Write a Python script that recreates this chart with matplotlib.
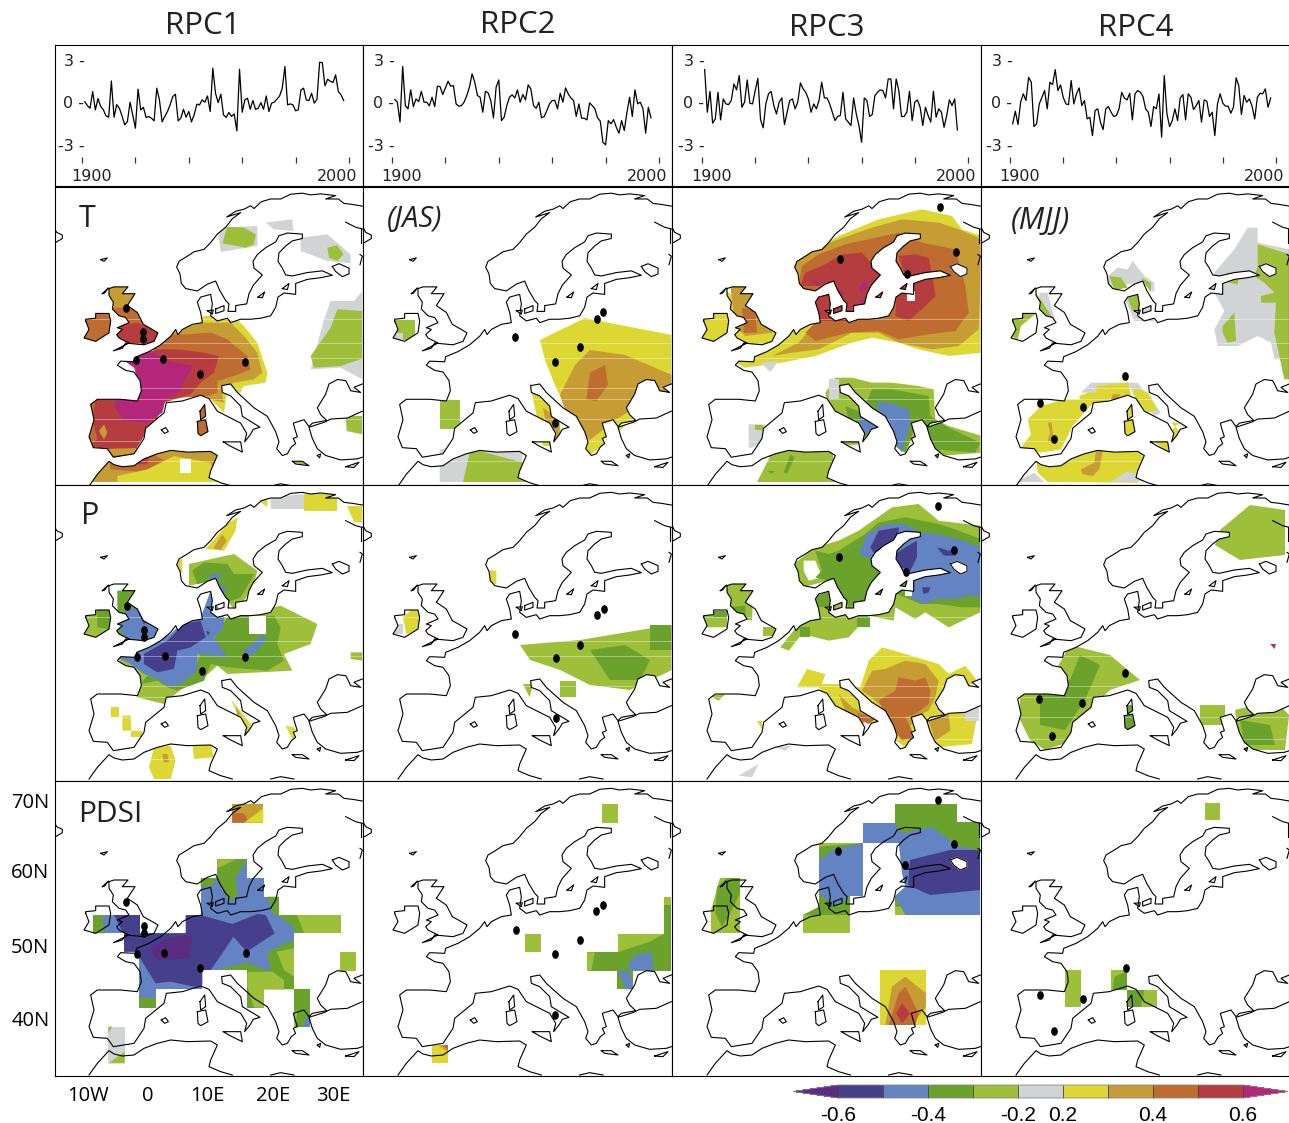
import numpy as np
import matplotlib
matplotlib.use('Agg')
import matplotlib.pyplot as plt
from matplotlib.colors import ListedColormap, BoundaryNorm
from matplotlib.cm import ScalarMappable
from matplotlib.path import Path
from matplotlib.patches import PathPatch
from matplotlib.transforms import Affine2D

W, H = 1289, 1123

# --- colours of the correlation classes
PUR, DARK, BLUE, GRN, LGR = '#5b2d82', '#463f8c', '#6483c2', '#6aa22c', '#9dbf39'
GRY, YEL, GLD, ORG, RED, MAG = '#d2d3d5', '#dcd733', '#c69c34', '#bf6c30', '#b63d3f', '#b3267a'
WHT = 'white'

bar_levels = [-0.6, -0.5, -0.4, -0.3, -0.2, 0.2, 0.3, 0.4, 0.5, 0.6]
bar_colors = [DARK, BLUE, GRN, LGR, GRY, YEL, GLD, ORG, RED]
bar_ticks = [-0.6, -0.4, -0.2, 0.2, 0.4, 0.6]

# --- time series of the four RPCs, one value a year from 1901
rpc1 = [0.16, -0.12, -0.31, 0.87, -0.42, 0.38, -0.19, -0.42, -0.85, -0.94, 1.62, -0.94, -0.05, -0.31, -0.85, -1.48,
        -1.25, 0.12, -0.78, -1.72, 1.04, -0.42, -0.24, -0.96, -0.89, -1.01, -1.2, 1.11, 0.28, -1.27, -0.89, -0.54,
        -0.07, 0.52, 0.68, -1.2, -1.01, -0.38, -0.94, -0.54, -1.27, -0.78, -0.02, -0.07, 0.28, 0.12, 0.56, -0.54,
        2.52, 0.75, 0.09, 0.68, -0.78, -0.96, -0.61, -0.89, -0.71, -1.91, 2.45, -0.59, 0.28, 0.4, -0.38, 0.24,
        -0.38, -0.31, 0.09, -0.38, 0.56, -0.54, 0.05, 0.12, 0.33, 0.56, 1.11, 2.64, -0.07, 0.0, -0.07, -0.49,
        -0.42, 0.99, 1.11, 0.28, 0.24, 0.75, 0.05, 0.33, 2.94, 2.92, 1.27, 1.74, 1.6, 1.51, 2.05, 0.87, 0.64, 0.24]
rpc2 = [0.31, 0.12, -1.29, 2.64, -0.12, -0.35, 0.99, -0.19, 0.35, 0.16, 0.89, 0.12, 0.12, -0.14, 0.47, -0.19,
        1.25, 1.22, 0.66, 1.13, 1.6, 1.25, 1.29, 0.0, -0.16, -0.12, 0.12, 0.59, 1.18, 2.12, 1.53, 0.59, 0.47, -0.59,
        0.89, 0.78, 0.24, -0.99, 1.18, 1.69, -1.18, -0.94, -0.12, 0.47, 0.64, 0.42, 0.99, 0.12, 0.66, 0.28, 1.34,
        1.06, -0.12, -0.31, 0.12, -0.99, -0.89, -0.47, 0.0, 0.24, 0.24, -0.35, 0.75, 0.12, 1.13, 0.71, 0.42, 0.24,
        -0.89, 0.0, -1.01, -1.01, -1.13, 0.07, -0.12, -0.35, -0.99, -1.22, -2.71, -2.89, -1.18, -1.41, -1.11, -1.65,
        -2.07, -1.18, -1.88, -0.59, 0.47, -0.89, 0.99, 0.0, 0.12, -0.35, -2.07, -0.24, -0.99]
rpc3 = [2.42, -0.59, 0.89, -1.36, -1.06, 0.82, -1.13, 0.35, 0.0, -0.05, 0.24, 1.41, 0.99, 2.0, -0.24, 0.12, 1.69,
        0.05, 0.0, 0.94, 1.81, -1.11, -1.69, 0.0, 0.71, 0.89, -0.12, -0.71, 0.12, 0.42, -1.46, -0.59, 0.24, 0.35,
        -0.35, 0.12, 1.48, 1.06, 0.82, 0.35, -0.59, 0.0, -0.35, 0.24, 1.53, 0.42, 0.42, 0.0, -0.59, -1.18, -0.89,
        -0.82, 0.82, -1.06, -1.29, -1.53, 0.42, -0.71, -1.53, -2.71, 0.42, 0.24, -0.89, -0.75, 0.59, 0.82, 0.99,
        0.94, 0.42, 1.76, 1.76, -0.35, 1.76, 0.94, -0.89, -0.89, -0.59, 0.89, -1.18, 0.12, 0.28, -0.24, -1.53,
        -0.24, -0.82, -1.29, 0.89, -0.94, -0.35, -0.59, -1.65, -0.82, 0.28, -0.12, 0.35, -1.84]
rpc4 = [-1.41, -0.52, -1.46, 0.12, 0.71, 0.24, 1.88, 1.53, -1.6, -1.41, 0.0, 0.47, 0.94, -0.35, 1.53, 1.36, 2.42,
        0.94, 1.34, 0.47, 0.0, -0.05, 1.65, 0.0, 0.71, 1.13, -0.12, 0.24, -1.06, -0.94, -2.24, -0.47, -0.35, -1.29,
        -1.81, -0.35, -0.19, -0.59, -0.89, -0.82, -0.35, 0.82, 0.42, 0.28, 0.75, -1.13, 0.71, 0.94, 0.82, 0.52,
        -0.35, -0.59, -1.6, -0.19, -0.35, 0.71, -2.35, 2.0, -0.71, -1.6, -1.18, -0.35, -1.18, 0.42, 0.66, -1.13,
        0.71, 0.47, -0.4, -0.12, 0.24, -1.29, 0.28, 0.19, -0.89, -0.59, -2.24, 0.0, 0.71, 0.05, -0.16, -0.16, -0.66,
        -0.24, 1.84, 1.29, -0.75, 0.59, 0.12, 0.35, -0.16, -1.06, 0.47, 0.75, 0.71, 1.06, -0.24, 0.42]

# --- coastline, in map units (3 units = 1 pixel of a panel)
mainland = [(925, 63), (895, 58), (870, 55), (853, 42), (815, 42), (845, 32), (800, 27), (770, 30), (745, 25), (710, 28),
            (680, 42), (650, 42), (622, 50), (600, 70), (590, 62), (570, 72), (545, 78), (518, 95), (560, 82), (535, 100),
            (515, 125), (490, 145), (470, 170), (450, 190), (420, 197), (400, 210), (375, 225), (368, 242), (378, 262),
            (382, 290), (395, 305), (430, 312), (460, 292), (485, 283), (497, 310), (515, 340), (525, 350), (522, 372),
            (545, 372), (545, 355), (578, 350), (585, 320), (598, 295), (625, 265), (600, 245), (597, 225), (610, 205),
            (635, 185), (665, 168), (675, 150), (700, 142), (745, 145), (745, 158), (715, 165), (695, 180), (675, 200),
            (672, 225), (685, 245), (695, 265), (715, 268), (760, 258), (805, 253), (835, 266), (800, 273), (760, 278),
            (725, 290), (725, 322), (690, 318), (672, 330), (665, 360), (650, 385), (620, 392), (590, 395), (560, 395),
            (530, 405), (520, 392), (490, 400), (470, 385), (475, 350), (470, 322), (440, 330), (430, 345), (440, 375),
            (445, 405), (415, 410), (385, 425), (372, 440), (365, 425), (350, 445), (320, 470), (285, 490), (248, 505),
            (245, 520), (200, 518), (190, 530), (215, 545), (240, 550), (258, 575), (262, 605), (250, 635), (200, 630),
            (130, 630), (110, 645), (120, 690), (105, 740), (118, 772), (160, 775), (178, 800), (240, 790), (270, 745),
            (275, 715), (330, 670), (337, 640), (385, 635), (440, 618), (465, 628), (490, 665), (520, 680), (560, 700),
            (578, 730), (572, 755), (588, 735), (598, 718), (618, 712), (590, 695), (565, 680), (560, 650), (530, 620),
            (505, 610), (503, 590), (530, 585), (550, 610), (600, 655), (640, 680), (665, 725), (675, 755), (668, 775),
            (685, 795), (700, 790), (712, 770), (725, 760), (718, 745), (730, 740), (722, 715), (718, 700), (750, 690),
            (765, 710), (775, 700), (818, 692), (800, 675), (790, 655), (815, 615), (825, 585), (850, 572), (875, 575),
            (883, 590), (890, 605), (920, 610), (900, 595), (925, 585)]
anatolia = [(925, 665), (880, 685), (830, 688), (812, 697), (765, 712), (775, 745), (790, 775), (815, 795), (860, 808),
            (910, 805), (925, 800)]
africa = [(105, 885), (130, 850), (165, 812), (180, 822), (205, 828), (240, 825), (270, 805), (310, 790), (350, 780),
          (400, 785), (470, 783), (490, 795), (470, 840), (465, 860), (500, 875), (535, 885)]
libya = [(650, 885), (680, 878), (720, 885)]
ireland = [(95, 400), (105, 425), (90, 450), (125, 460), (165, 435), (170, 400), (165, 378), (125, 378), (125, 392), (95, 395)]
britain = [(165, 305), (180, 300), (222, 300), (205, 320), (243, 320), (220, 355), (250, 375), (268, 410), (295, 425),
           (312, 435), (300, 460), (270, 470), (215, 465), (205, 480), (178, 488), (225, 465), (195, 450), (188, 440),
           (205, 425), (190, 420), (225, 405), (215, 390), (195, 385), (175, 365), (178, 345), (165, 325)]
islands = [[(145, 320), (163, 303), (152, 318)], [(140, 220), (160, 215), (150, 225)],
           [(438, 665), (452, 645), (455, 680), (440, 690)], [(430, 695), (455, 690), (462, 725), (440, 737), (432, 730)],
           [(508, 755), (560, 755), (565, 785), (530, 768)], [(322, 720), (335, 713), (343, 725), (332, 730)],
           [(715, 812), (745, 812), (765, 825), (725, 820)], [(875, 828), (915, 815), (900, 830)],
           [(790, 795), (800, 790), (797, 802)], [(612, 330), (632, 315), (625, 332)], [(685, 305), (705, 290), (700, 308)],
           [(485, 365), (510, 355), (510, 370), (485, 378)], [(460, 370), (478, 368), (475, 380)]]
lake_ladoga = [(835, 240), (855, 232), (885, 245), (885, 262), (865, 270), (845, 255)]
coast_bits = [[(0, 125), (8, 140), (25, 148), (25, 158), (8, 168), (0, 172)], [(875, 110), (905, 125), (925, 130)],
              [(920, 130), (920, 170)], [(918, 205), (925, 210), (918, 235)]]

# --- field polygons per panel, painted outer class first, in map units
t_rpc1 = [
    (YEL, [(430, 410), (450, 390), (530, 385), (570, 420), (610, 470), (640, 560), (635, 590), (570, 600), (555, 625), (520, 610), (510, 680), (470, 640), (300, 500)]),
    (GLD, [(300, 480), (380, 425), (450, 410), (530, 410), (570, 450), (610, 500), (625, 560), (600, 580), (540, 590), (500, 600), (510, 650), (470, 640), (440, 620), (300, 600)]),
    (ORG, [(300, 490), (350, 445), (400, 445), (470, 440), (520, 460), (580, 510), (590, 550), (540, 570), (490, 585), (490, 620), (460, 630), (300, 640)]),
    (RED, [(240, 510), (310, 490), (370, 490), (450, 500), (495, 510), (480, 560), (440, 590), (410, 625), (330, 650), (300, 720), (270, 750), (240, 800), (180, 815), (160, 790), (100, 780), (95, 640), (180, 625), (250, 630)]),
    (ORG, [(100, 640), (125, 640), (115, 700), (130, 760), (100, 780)]),
    (MAG, [(190, 510), (300, 500), (345, 525), (418, 540), (395, 580), (370, 625), (335, 640), (325, 680), (280, 710), (210, 705), (180, 660), (190, 640), (255, 640), (262, 590), (240, 545)]),
    (GLD, [(135, 735), (150, 715), (160, 740), (150, 760)]),
    (ORG, [(80, 370), (180, 370), (180, 470), (80, 470)]),
    (GLD, [(140, 290), (250, 290), (250, 375), (140, 375)]),
    (ORG, [(170, 365), (250, 365), (320, 430), (320, 490), (170, 495)]),
    (RED, [(180, 420), (250, 410), (315, 440), (305, 480), (170, 497), (185, 450)]),
    (ORG, [(425, 650), (465, 650), (465, 750), (425, 750)]),
    (GLD, [(105, 790), (490, 780), (500, 888), (105, 888)]),
    (ORG, [(165, 810), (290, 800), (340, 830), (280, 860), (170, 850)]),
    (RED, [(250, 812), (285, 810), (280, 835), (250, 835)]),
    (YEL, [(190, 870), (280, 850), (360, 810), (470, 830), (490, 888), (190, 888)]),
    (WHT, [(378, 818), (412, 818), (412, 860), (378, 860)]),
    (GRY, [(490, 125), (610, 120), (610, 180), (500, 198)]),
    (LGR, [(520, 122), (570, 125), (605, 145), (600, 175), (575, 185), (505, 172)]),
    (GRY, [(635, 110), (715, 100), (718, 135), (660, 130)]),
    (GRY, [(740, 155), (820, 145), (890, 205), (890, 232), (820, 225), (740, 195)]),
    (LGR, [(820, 185), (850, 178), (868, 205), (850, 225), (825, 215)]),
    (GRY, [(830, 345), (900, 345), (925, 315), (925, 580), (860, 545), (770, 550), (810, 400)]),
    (LGR, [(770, 510), (830, 425), (850, 370), (925, 375), (925, 518), (860, 540), (780, 545)]),
    (LGR, [(875, 690), (925, 690), (925, 745), (878, 735)]),
    (LGR, [(725, 770), (755, 800), (740, 805)]),
    (LGR, [(712, 815), (765, 820), (760, 838), (715, 830)]),
    (LGR, [(875, 825), (915, 815), (900, 840)]),
]
t_rpc2 = [
    (YEL, [(531, 462), (666, 396), (771, 417), (927, 447), (927, 657), (831, 678), (741, 762), (681, 807), (636, 732), (576, 597), (546, 522)]),
    (GLD, [(681, 492), (786, 507), (927, 567), (927, 627), (831, 657), (756, 702), (681, 762), (621, 717), (591, 627), (636, 537)]),
    (ORG, [(681, 560), (726, 537), (735, 597), (700, 645), (670, 640)]),
    (YEL, [(500, 590), (585, 680), (600, 780), (540, 780)]),
    (GLD, [(540, 665), (590, 700), (590, 770), (560, 770)]),
    (LGR, [(231, 642), (291, 642), (291, 730), (231, 730)]),
    (GRY, [(230, 790), (330, 770), (480, 800), (470, 888), (230, 888)]),
    (LGR, [(300, 888), (320, 800), (350, 795), (480, 830), (490, 888)]),
    (LGR, [(96, 402), (156, 402), (156, 462), (96, 462)]),
    (GRY, [(90, 440), (120, 440), (120, 470), (90, 470)]),
]
t_rpc3 = [
    (YEL, [(190, 530), (240, 510), (310, 480), (360, 400), (360, 230), (500, 150), (620, 100), (750, 70), (840, 90), (870, 130), (930, 150), (930, 500), (830, 510), (740, 490), (680, 470), (600, 455), (540, 470), (430, 510), (330, 530), (220, 545)]),
    (GLD, [(300, 510), (380, 470), (440, 400), (360, 240), (420, 190), (500, 160), (600, 125), (690, 100), (800, 110), (860, 130), (930, 160), (920, 430), (860, 480), (780, 490), (680, 470), (620, 440), (540, 440), (440, 490), (360, 500)]),
    (ORG, [(400, 440), (440, 400), (380, 300), (390, 240), (440, 205), (520, 175), (680, 140), (750, 170), (850, 190), (880, 300), (890, 380), (850, 435), (770, 445), (680, 460), (620, 435), (530, 440), (430, 465)]),
    (RED, [(385, 300), (400, 260), (460, 235), (510, 205), (570, 200), (640, 280), (620, 320), (590, 360), (540, 375), (540, 405), (440, 405), (430, 340), (480, 320), (480, 300)]),
    (RED, [(680, 210), (730, 205), (770, 215), (785, 290), (790, 330), (760, 360), (710, 405), (670, 390), (675, 320), (700, 270)]),
    (MAG, [(425, 285), (445, 290), (435, 300)]),
    (MAG, [(495, 305), (515, 320), (505, 335)]),
    (MAG, [(560, 310), (580, 280), (590, 305), (565, 320)]),
    (MAG, [(560, 340), (580, 340), (570, 355)]),
    (WHT, [(705, 315), (730, 315), (730, 345), (705, 345)]),
    (YEL, [(85, 370), (180, 370), (180, 470), (85, 470)]),
    (YEL, [(145, 300), (320, 440), (310, 500), (170, 500)]),
    (GLD, [(175, 300), (245, 300), (300, 440), (220, 450), (190, 420)]),
    (ORG, [(210, 365), (250, 375), (255, 440), (215, 440)]),
    (GRY, [(265, 530), (320, 525), (295, 558)]),
    (LGR, [(460, 620), (490, 575), (540, 575), (600, 590), (660, 590), (740, 600), (785, 610), (790, 700), (830, 720), (930, 750), (930, 800), (800, 810), (750, 800), (720, 760), (700, 800), (680, 790), (620, 720), (600, 770), (520, 780), (500, 700), (470, 660)]),
    (GRY, [(470, 580), (500, 580), (500, 640), (470, 640)]),
    (GRN, [(520, 660), (570, 680), (600, 610), (660, 610), (770, 630), (775, 690), (820, 720), (925, 770), (910, 800), (780, 790), (760, 730), (730, 720), (700, 800), (670, 780), (630, 720), (590, 750), (560, 750), (530, 700)]),
    (BLUE, [(560, 680), (590, 690), (620, 720), (590, 740), (570, 750)]),
    (BLUE, [(610, 650), (650, 650), (710, 670), (715, 710), (690, 800), (670, 770), (640, 710)]),
    (GRY, [(230, 715), (280, 715), (280, 760), (240, 785), (230, 785)]),
    (LGR, [(250, 718), (272, 718), (272, 732), (250, 732)]),
    (LGR, [(300, 795), (480, 785), (490, 860), (470, 880), (500, 888), (255, 888), (290, 820)]),
    (GRN, [(335, 860), (355, 805), (368, 815), (345, 862)]),
    (GRN, [(285, 855), (310, 855), (300, 863)]),
    (GRN, [(650, 888), (690, 875), (720, 888)]),
]
t_rpc4 = [
    (GRY, [(800, 125), (830, 125), (830, 170), (925, 190), (925, 520), (880, 520), (870, 470), (830, 450), (770, 480), (710, 480), (700, 430), (730, 375), (690, 300), (700, 260), (760, 190)]),
    (LGR, [(830, 175), (925, 205), (925, 580), (910, 580), (880, 440), (885, 350), (840, 350), (840, 330), (880, 320), (850, 290), (820, 270), (830, 240)]),
    (LGR, [(725, 420), (760, 380), (765, 465), (740, 470), (725, 440)]),
    (LGR, [(740, 260), (775, 260), (770, 295), (745, 290)]),
    (GRY, [(380, 270), (410, 245), (440, 250), (455, 225), (490, 270), (520, 290), (520, 320), (480, 290), (440, 295), (380, 310)]),
    (LGR, [(385, 270), (420, 275), (440, 305), (400, 312)]),
    (LGR, [(480, 275), (510, 290), (510, 320)]),
    (GRY, [(430, 335), (520, 340), (520, 405), (460, 405)]),
    (LGR, [(440, 335), (475, 325), (475, 365), (455, 375)]),
    (LGR, [(90, 400), (125, 378), (170, 378), (120, 420), (110, 460), (90, 450)]),
    (GRY, [(175, 320), (200, 320), (220, 395), (175, 395)]),
    (LGR, [(145, 310), (165, 320), (215, 395), (190, 395), (165, 360)]),
    (YEL, [(120, 785), (150, 745), (140, 700), (180, 660), (250, 640), (310, 640), (345, 640), (275, 720), (240, 790), (180, 800)]),
    (YEL, [(295, 630), (370, 600), (440, 590), (450, 625), (400, 640), (340, 650), (300, 680)]),
    (YEL, [(455, 600), (500, 620), (530, 670), (500, 680), (470, 650), (455, 620)]),
    (GRY, [(300, 620), (330, 590), (470, 590), (540, 680), (520, 690), (440, 600), (340, 620)]),
    (YEL, [(345, 600), (440, 590), (450, 625), (350, 650)]),
    (YEL, [(455, 605), (500, 620), (530, 670), (500, 680), (470, 650)]),
    (GLD, [(200, 710), (212, 710), (218, 770), (200, 765), (208, 740)]),
    (GLD, [(395, 625), (418, 625), (405, 645), (390, 640)]),
    (YEL, [(505, 755), (565, 740), (595, 710), (570, 710), (600, 740), (560, 800)]),
    (YEL, [(425, 655), (465, 655), (465, 745), (425, 745)]),
    (YEL, [(165, 820), (290, 800), (480, 780), (490, 850), (470, 890), (200, 888), (170, 860)]),
    (GLD, [(300, 850), (340, 830), (345, 795), (365, 795), (355, 850), (335, 870), (305, 865)]),
    (GRY, [(105, 888), (160, 860), (190, 888)]),
    (GRY, [(390, 888), (440, 855), (535, 885)]),
]
p_rpc1 = [
    (LGR, [(190, 515), (300, 480), (440, 400), (520, 400), (680, 365), (790, 420), (770, 480), (690, 510), (715, 560), (520, 570), (490, 545), (440, 590), (400, 600), (330, 660), (250, 640)]),
    (LGR, [(405, 240), (540, 210), (610, 260), (600, 300), (570, 350), (540, 375), (510, 340), (480, 290), (405, 305)]),
    (GRN, [(415, 260), (450, 235), (520, 240), (540, 270), (600, 270), (590, 290), (560, 340), (520, 355), (480, 290), (430, 300)]),
    (BLUE, [(470, 270), (505, 270), (495, 285), (465, 285)]),
    (BLUE, [(490, 300), (520, 310), (505, 330)]),
    (GRN, [(260, 600), (280, 575), (340, 575), (430, 540), (440, 500), (480, 465), (520, 400), (660, 395), (680, 430), (670, 480), (690, 530), (640, 560), (520, 550), (470, 540), (450, 590), (370, 620), (340, 610), (310, 590)]),
    (BLUE, [(190, 520), (290, 480), (350, 450), (390, 410), (440, 400), (470, 320), (480, 350), (510, 400), (510, 430), (480, 460), (520, 520), (430, 510), (430, 560), (380, 600), (350, 610), (310, 585), (270, 570), (230, 540)]),
    (BLUE, [(570, 500), (630, 450), (635, 470), (600, 510), (570, 520)]),
    (DARK, [(270, 510), (340, 470), (390, 420), (440, 410), (455, 460), (410, 490), (370, 500), (360, 555), (310, 565), (270, 540)]),
    (DARK, [(455, 440), (468, 445), (462, 455)]),
    (WHT, [(585, 395), (635, 395), (635, 450), (585, 450)]),
    (LGR, [(90, 380), (170, 380), (170, 460), (90, 460)]),
    (GRN, [(130, 378), (172, 378), (165, 435), (130, 430)]),
    (GRN, [(190, 320), (245, 320), (250, 480), (190, 485)]),
    (BLUE, [(210, 380), (260, 370), (310, 430), (305, 470), (220, 470), (195, 430)]),
    (DARK, [(250, 380), (278, 410), (270, 422)]),
    (YEL, [(455, 195), (520, 120), (550, 100), (545, 140), (510, 200)]),
    (GLD, [(478, 192), (505, 150), (518, 170), (500, 198)]),
    (YEL, [(615, 50), (640, 45), (640, 70)]),
    (GRY, [(650, 40), (750, 30), (750, 75), (650, 75)]),
    (YEL, [(750, 30), (850, 30), (850, 80), (750, 80)]),
    (YEL, [(880, 65), (925, 65), (925, 115), (900, 115)]),
    (YEL, [(365, 230), (385, 225), (385, 265), (370, 265)]),
    (YEL, [(530, 645), (590, 720), (590, 755), (550, 755), (560, 710)]),
    (GLD, [(545, 670), (560, 690), (550, 695)]),
    (YEL, [(172, 670), (195, 670), (195, 700), (172, 700)]),
    (YEL, [(205, 695), (230, 695), (232, 740), (205, 740)]),
    (YEL, [(230, 740), (265, 740), (265, 760), (230, 760)]),
    (YEL, [(285, 850), (300, 790), (350, 785), (365, 830), (350, 885), (300, 885)]),
    (GLD, [(325, 810), (340, 810), (345, 835), (330, 835)]),
    (YEL, [(415, 780), (470, 780), (480, 820), (420, 825)]),
    (YEL, [(695, 725), (720, 730), (735, 765), (715, 765)]),
    (LGR, [(890, 505), (925, 505), (925, 530), (890, 525)]),
]
p_rpc2 = [
    (LGR, [(471, 483), (651, 468), (831, 438), (927, 423), (927, 558), (801, 618), (681, 603), (591, 558), (501, 528)]),
    (LGR, [(590, 590), (640, 590), (640, 640), (590, 640)]),
    (GRN, [(681, 498), (786, 483), (861, 528), (831, 588), (741, 588)]),
    (GRN, [(861, 423), (927, 423), (927, 498), (861, 498)]),
    (YEL, [(120, 400), (165, 360), (190, 420), (165, 440), (130, 450)]),
    (GRY, [(90, 420), (120, 420), (120, 450), (90, 450)]),
    (YEL, [(381, 258), (400, 260), (400, 300), (381, 300)]),
    (LGR, [(480, 600), (510, 600), (500, 640)]),
]
p_rpc3 = [
    (LGR, [(365, 240), (430, 190), (500, 170), (560, 140), (660, 70), (740, 60), (800, 110), (925, 125), (925, 385), (830, 430), (760, 385), (730, 405), (670, 370), (665, 410), (590, 395), (530, 460), (470, 470), (390, 450), (350, 500), (325, 490), (380, 420), (435, 400), (430, 340), (470, 320), (470, 290), (390, 310), (370, 260)]),
    (WHT, [(395, 230), (430, 230), (450, 280), (410, 290), (395, 260)]),
    (GRN, [(430, 200), (470, 210), (500, 200), (580, 150), (620, 115), (700, 100), (800, 120), (860, 140), (925, 165), (925, 370), (870, 370), (800, 360), (745, 360), (675, 330), (700, 310), (640, 320), (580, 350), (530, 370), (510, 330), (470, 290), (430, 280), (450, 260)]),
    (GRN, [(430, 335), (470, 325), (475, 365), (440, 370)]),
    (GRN, [(385, 430), (415, 430), (415, 460), (385, 460)]),
    (GRN, [(555, 400), (595, 400), (595, 430), (555, 430)]),
    (BLUE, [(560, 210), (585, 150), (640, 120), (700, 120), (745, 145), (790, 150), (860, 165), (925, 190), (925, 340), (890, 335), (850, 345), (800, 345), (755, 360), (720, 345), (700, 300), (670, 270), (640, 240), (600, 225)]),
    (DARK, [(595, 190), (620, 140), (680, 130), (680, 150), (640, 190), (610, 215)]),
    (DARK, [(670, 210), (700, 190), (735, 170), (735, 220), (715, 260), (685, 250)]),
    (DARK, [(795, 190), (830, 200), (855, 190), (850, 215), (815, 215)]),
    (DARK, [(750, 310), (775, 310), (770, 325), (755, 330)]),
    (WHT, [(700, 310), (720, 310), (720, 335), (700, 335)]),
    (LGR, [(90, 395), (165, 380), (165, 430), (90, 430)]),
    (GRN, [(125, 380), (165, 380), (165, 400), (125, 400)]),
    (LGR, [(145, 295), (245, 295), (240, 410), (170, 400)]),
    (GRN, [(165, 370), (220, 365), (220, 395), (175, 395)]),
    (LGR, [(272, 430), (308, 430), (308, 456), (272, 456)]),
    (YEL, [(375, 610), (405, 555), (460, 570), (450, 600), (500, 600), (565, 610), (590, 530), (630, 490), (700, 510), (800, 540), (830, 570), (880, 545), (915, 590), (850, 630), (790, 670), (880, 680), (920, 670), (900, 780), (800, 790), (760, 740), (720, 780), (700, 790), (600, 720), (510, 690), (465, 640), (440, 610)]),
    (GLD, [(570, 620), (600, 560), (640, 555), (700, 530), (760, 540), (800, 590), (790, 640), (770, 680), (730, 700), (690, 770), (640, 680), (600, 640)]),
    (GLD, [(500, 630), (540, 670), (600, 700), (570, 720), (520, 680)]),
    (GLD, [(770, 710), (830, 690), (835, 740), (790, 770)]),
    (ORG, [(620, 650), (670, 620), (680, 580), (730, 590), (760, 580), (775, 620), (770, 660), (730, 690), (700, 700), (730, 760), (690, 770), (650, 710)]),
    (ORG, [(555, 685), (610, 705), (590, 720), (570, 710)]),
    (LGR, [(110, 635), (160, 630), (140, 650)]),
    (YEL, [(255, 710), (270, 710), (270, 735)]),
    (GRY, [(310, 790), (360, 785), (340, 800)]),
    (GRY, [(200, 875), (260, 840), (240, 880)]),
    (GRY, [(880, 670), (920, 670), (920, 710), (880, 710)]),
]
p_rpc4 = [
    (LGR, [(717, 138), (807, 63), (912, 78), (912, 213), (777, 228), (702, 183)]),
    (LGR, [(117, 618), (207, 588), (267, 483), (387, 513), (477, 588), (387, 618), (327, 678), (282, 768), (192, 798), (147, 768), (117, 708)]),
    (GRN, [(177, 633), (267, 588), (297, 513), (357, 543), (312, 648), (252, 738), (177, 723)]),
    (GRN, [(357, 663), (465, 663), (465, 738), (357, 738)]),
    (LGR, [(657, 663), (732, 663), (732, 723), (657, 723)]),
    (LGR, [(762, 678), (882, 648), (924, 693), (912, 798), (777, 798)]),
    (GRN, [(777, 708), (867, 723), (882, 783), (792, 783)]),
    (MAG, [(868, 480), (885, 480), (880, 495)]),
    (GRY, [(160, 590), (190, 590), (190, 620), (160, 620)]),
]
pdsi_rpc1 = [
    (BLUE, [(117, 405), (258, 405), (258, 460), (395, 460), (395, 405), (440, 405), (440, 295), (490, 295), (490, 238), (580, 238), (580, 295), (630, 295), (630, 350), (675, 350), (675, 405), (860, 405), (860, 460), (720, 460), (720, 628), (630, 628), (630, 683), (580, 683), (580, 570), (445, 570), (445, 628), (305, 628), (305, 683), (255, 683), (255, 515), (210, 515), (210, 460), (117, 460)]),
    (GRN, [(117, 405), (145, 405), (152, 460), (117, 460)]),
    (GRN, [(490, 238), (580, 238), (545, 290), (550, 350), (525, 360), (490, 295)]),
    (LGR, [(490, 238), (545, 238), (490, 265)]),
    (GRN, [(440, 295), (490, 295), (470, 320), (440, 320)]),
    (GRN, [(630, 350), (675, 350), (675, 405), (660, 405), (640, 350)]),
    (GRN, [(670, 405), (860, 405), (860, 460), (720, 460), (720, 440)]),
    (LGR, [(730, 405), (860, 405), (860, 460), (750, 460)]),
    (GRN, [(640, 515), (720, 480), (720, 628), (630, 628), (630, 683), (580, 683), (580, 570), (490, 570), (575, 548), (650, 575)]),
    (LGR, [(668, 515), (720, 505), (720, 590), (690, 570)]),
    (LGR, [(580, 575), (655, 575), (690, 600), (690, 628), (630, 628), (630, 683), (600, 683), (580, 620)]),
    (GRN, [(255, 655), (305, 655), (305, 683), (255, 683)]),
    (DARK, [(180, 405), (258, 405), (258, 460), (395, 460), (395, 405), (440, 405), (535, 432), (610, 402), (635, 405), (662, 460), (578, 515), (538, 470), (505, 520), (470, 570), (445, 570), (445, 615), (420, 620), (350, 605), (305, 610), (255, 530), (255, 515), (210, 515), (210, 460), (200, 445)]),
    (PUR, [(290, 505), (340, 475), (415, 465), (405, 535), (320, 540), (300, 530)]),
    (GLD, [(535, 72), (628, 72), (628, 128), (535, 128)]),
    (ORG, [(535, 100), (570, 100), (585, 128), (535, 128)]),
    (YEL, [(570, 128), (628, 85), (628, 128)]),
    (LGR, [(858, 517), (906, 517), (906, 572), (858, 572)]),
    (GRN, [(720, 628), (768, 628), (768, 740), (720, 740)]),
    (BLUE, [(765, 700), (768, 740), (745, 740)]),
    (LGR, [(720, 695), (730, 690), (725, 740), (720, 740)]),
    (GRY, [(163, 740), (212, 740), (212, 850), (163, 850)]),
    (LGR, [(163, 740), (175, 740), (163, 760)]),
    (LGR, [(163, 850), (212, 815), (212, 850)]),
]
pdsi_rpc2 = [
    (LGR, [(718, 72), (765, 72), (765, 128), (718, 128)]),
    (LGR, [(486, 462), (533, 462), (533, 517), (486, 517)]),
    (YEL, [(208, 795), (255, 795), (255, 850), (208, 850)]),
    (GLD, [(225, 795), (255, 795), (255, 815)]),
    (ORG, [(240, 795), (255, 795), (255, 810)]),
    (GRN, [(672, 517), (765, 517), (765, 462), (903, 462), (903, 350), (925, 350), (925, 572), (810, 572), (810, 628), (763, 628), (763, 572), (672, 572)]),
    (LGR, [(672, 517), (695, 517), (685, 572), (672, 572)]),
    (LGR, [(765, 462), (903, 462), (860, 485), (770, 515), (765, 517)]),
    (LGR, [(903, 350), (925, 350), (925, 375), (903, 375)]),
    (BLUE, [(800, 545), (820, 525), (865, 515), (872, 572), (795, 572)]),
    (BLUE, [(763, 572), (795, 572), (808, 605), (808, 628), (790, 628)]),
]
pdsi_rpc3 = [
    (LGR, [(441, 189), (576, 189), (576, 129), (669, 129), (669, 72), (855, 72), (855, 126), (924, 126), (924, 405), (669, 405), (669, 348), (534, 348), (534, 459), (393, 459), (393, 405), (441, 405)]),
    (GRN, [(441, 200), (576, 189), (576, 129), (669, 129), (669, 72), (855, 72), (855, 126), (924, 126), (924, 380), (669, 380), (669, 348), (534, 348), (534, 405), (393, 405), (441, 380)]),
    (BLUE, [(441, 240), (480, 210), (573, 190), (573, 129), (669, 129), (690, 160), (780, 140), (860, 200), (924, 210), (924, 405), (700, 405), (669, 348), (534, 348), (490, 380), (441, 340)]),
    (DARK, [(714, 240), (834, 210), (924, 210), (924, 330), (774, 345), (708, 315)]),
    (WHT, [(573, 189), (680, 189), (690, 280), (700, 320), (669, 348), (573, 348)]),
    (LGR, [(117, 390), (144, 294), (204, 294), (204, 459), (117, 459)]),
    (GRN, [(135, 320), (165, 294), (204, 294), (204, 340), (175, 400), (150, 440), (130, 400)]),
    (YEL, [(624, 570), (762, 570), (762, 735), (624, 735)]),
    (GLD, [(640, 735), (660, 620), (700, 590), (762, 640), (762, 680), (720, 735)]),
    (ORG, [(650, 735), (680, 640), (700, 620), (740, 700), (730, 735)]),
    (RED, [(690, 670), (715, 700), (690, 730), (672, 700)]),
]
pdsi_rpc4 = [
    (LGR, [(672, 69), (717, 69), (717, 120), (672, 120)]),
    (LGR, [(252, 570), (300, 570), (300, 681), (252, 681)]),
    (LGR, [(390, 570), (438, 570), (438, 630), (390, 630)]),
    (GRN, [(400, 590), (438, 575), (438, 630), (395, 630)]),
    (LGR, [(438, 630), (528, 630), (528, 681), (438, 681)]),
    (GRN, [(438, 630), (490, 630), (480, 681), (440, 681)]),
]

# --- station dots per panel
dots_col1 = [[(215, 366), (267, 437), (267, 458), (247, 522), (327, 519), (437, 563), (573, 529)],
             [(218, 366), (270, 437), (270, 458), (250, 520), (332, 517), (443, 562), (573, 518)],
             [(217, 366), (269, 438), (269, 458), (249, 521), (329, 519), (439, 563), (575, 518)]]
dots_col2 = [[(456, 453), (576, 528), (651, 483), (702, 399), (720, 378), (576, 711)],
             [(456, 450), (579, 522), (651, 483), (702, 393), (723, 375), (579, 702)],
             [(458, 451), (577, 523), (652, 481), (700, 393), (720, 375), (577, 706)]]
dots_col3 = [[(804, 64), (852, 198), (706, 264), (503, 219)],
             [(799, 66), (847, 198), (703, 263), (502, 219)],
             [(798, 60), (846, 192), (699, 255), (498, 213)]]
dots_col4 = [[(176, 650), (305, 662), (218, 760), (431, 571)],
             [(174, 645), (303, 657), (213, 756), (432, 567)],
             [(177, 645), (306, 657), (219, 753), (435, 564)]]

col_titles = ['RPC1', 'RPC2', 'RPC3', 'RPC4']
lon_labels = ['10W', '0', '10E', '20E', '30E']
lon_pos = [102, 282, 459, 657, 837]
lat_labels = ['70N', '60N', '50N', '40N']
lat_pos = [63, 273, 495, 717]
scan_lines = [400, 470, 515, 605, 640, 700, 765, 825]

# pixel layout of the grid
col_edges = [55, 363, 672, 981, 1289]
row_edges = [187, 485, 781, 1076]
map_ox = [54, 363, 672, 981]
map_oy = [186, 484, 780]
year1900_px = [82, 392, 702, 1010]
year2000_px = [349, 659, 968, 1276]
title_px = [203, 518, 827, 1136]
title_py = [26, 25, 28, 28]

plt.rcParams['font.family'] = ['Open Sans', 'DejaVu Sans']
dot_marker = Path.unit_circle().transformed(Affine2D().scale(0.77, 1.0))


def px_axes(fig, left, top, right, bottom):
    return fig.add_axes([left / W, 1 - bottom / H, (right - left) / W, (bottom - top) / H])


def row_coast(points, row):
    # the top row of maps was pasted in slightly stretched
    pts = np.array(points, dtype=float)
    if row == 0:
        pts[:, 1] = pts[:, 1] * 1.022 - 4
    return pts


def land_path(row):
    parts = [mainland, anatolia, africa, libya, ireland, britain] + islands
    verts, codes = [], []
    for part in parts:
        pts = row_coast(part, row)
        verts.extend(pts.tolist() + [pts[0].tolist()])
        codes.extend([Path.MOVETO] + [Path.LINETO] * (len(pts) - 1) + [Path.CLOSEPOLY])
    return Path(verts, codes)


def draw_series(ax, values, col):
    scale = (year2000_px[col] - year1900_px[col]) / 100.0
    left, right = col_edges[col], col_edges[col + 1]
    ax.set_xlim(1900 - (year1900_px[col] - left) / scale, 2000 + (right - year2000_px[col]) / scale)
    ax.set_ylim(-5.8, 4.16)
    years = 1901 + np.arange(len(values))
    ax.plot(years, values, color='black', lw=0.9)
    ax.vlines(np.arange(1900, 2001, 20), -4.15, -3.75, color='#333333', lw=0.9)
    for val in [3, 0, -3]:
        ax.text(1900.9, val, f'{val} -', ha='right', va='center', fontsize=11.5, family='DejaVu Sans', color='#222222')
    ax.text(1900 + 10 / scale, -5.12, '1900', ha='center', va='center', fontsize=11.5, family='DejaVu Sans', color='#222222')
    ax.text(2000 - 12 / scale, -5.12, '2000', ha='center', va='center', fontsize=11.5, family='DejaVu Sans', color='#222222')
    ax.set_xticks([])
    ax.set_yticks([])


def draw_map(ax, fields, dots, row, col, clip):
    left, right = col_edges[col], col_edges[col + 1]
    top, bottom = row_edges[row], row_edges[row + 1]
    ax.set_xlim((left - map_ox[col]) * 3, (right - map_ox[col]) * 3)
    ax.set_ylim((bottom - map_oy[row]) * 3, (top - map_oy[row]) * 3)
    clip_patch = None
    if clip:
        clip_patch = PathPatch(land_path(row), transform=ax.transData, fc='none', ec='none')
        ax.add_patch(clip_patch)
    for color, poly in fields:
        xy = np.array(poly)
        shape = ax.fill(xy[:, 0], xy[:, 1], color=color, lw=0, zorder=1)[0]
        if clip_patch is not None:
            shape.set_clip_path(clip_patch)
    if clip:
        ax.hlines(scan_lines, 0, 930, color='white', lw=0.6, alpha=0.45, zorder=1.5)
    lake = row_coast(lake_ladoga, row)
    ax.fill(lake[:, 0], lake[:, 1], color='white', zorder=2)
    for part in [mainland, anatolia, africa, libya] + coast_bits:
        pts = row_coast(part, row)
        ax.plot(pts[:, 0], pts[:, 1], color='black', lw=0.8, zorder=3, solid_joinstyle='round')
    for part in [ireland, britain, lake_ladoga] + islands:
        pts = row_coast(part, row)
        ax.plot(np.r_[pts[:, 0], pts[0, 0]], np.r_[pts[:, 1], pts[0, 1]], color='black', lw=0.8, zorder=3)
    xy = np.array(dots)
    ax.scatter(xy[:, 0], xy[:, 1], s=39, marker=dot_marker, color='black', zorder=4, lw=0)
    ax.set_xticks([])
    ax.set_yticks([])


fig = plt.figure(figsize=(W / 100, H / 100), dpi=100, facecolor='white')

for col, values in enumerate([rpc1, rpc2, rpc3, rpc4]):
    ax = px_axes(fig, col_edges[col], 45, col_edges[col + 1], 186)
    draw_series(ax, values, col)
    fig.text(title_px[col] / W, 1 - title_py[col] / H, col_titles[col], ha='center', va='center', fontsize=22.5, color='#222222')

all_fields = [[t_rpc1, t_rpc2, t_rpc3, t_rpc4], [p_rpc1, p_rpc2, p_rpc3, p_rpc4],
              [pdsi_rpc1, pdsi_rpc2, pdsi_rpc3, pdsi_rpc4]]
all_dots = [dots_col1, dots_col2, dots_col3, dots_col4]
first_map = None
for row in range(3):
    for col in range(4):
        ax = px_axes(fig, col_edges[col], row_edges[row], col_edges[col + 1], row_edges[row + 1])
        draw_map(ax, all_fields[row][col], all_dots[col][row], row, col, clip=row < 2)
        if row == 2 and col == 0:
            first_map = ax

first_map.set_xticks(lon_pos, lon_labels, fontsize=14.5)
first_map.set_yticks(lat_pos, lat_labels, fontsize=14.5)
first_map.tick_params(length=0, pad=4)
first_map.tick_params(axis='x', pad=7)

fig.text(87 / W, 1 - 219 / H, 'T', ha='center', va='center', fontsize=22, color='#222222')
fig.text(90 / W, 1 - 516 / H, 'P', ha='center', va='center', fontsize=22, color='#222222')
fig.text(110 / W, 1 - 814 / H, 'PDSI', ha='center', va='center', fontsize=21.5, color='#222222')
fig.text(415 / W, 1 - 219 / H, '(JAS)', ha='center', va='center', fontsize=21, style='italic', color='#222222')
fig.text(1040 / W, 1 - 221 / H, '(MJJ)', ha='center', va='center', fontsize=22, style='italic', color='#222222')

# colour bar with pointed ends
cax = px_axes(fig, 793, 1085, 1288, 1098)
cmap = ListedColormap(bar_colors)
cmap.set_under(PUR)
cmap.set_over(MAG)
norm = BoundaryNorm(bar_levels, cmap.N)
cbar = fig.colorbar(ScalarMappable(norm=norm, cmap=cmap), cax=cax, orientation='horizontal', extend='both',
                    extendfrac=1 / 9, spacing='uniform', drawedges=True, ticks=bar_ticks)
cbar.dividers.set_color('#444444')
cbar.dividers.set_linewidth(0.6)
cbar.outline.set_edgecolor('#888888')
cbar.outline.set_linewidth(0.6)
cbar.ax.minorticks_off()
cbar.ax.tick_params(length=0, labelsize=15, pad=6)
cbar.ax.set_xticklabels(['-0.6', '-0.4', '-0.2', '0.2', '0.4', '0.6'], family='Liberation Sans')

fig.savefig('out.png', dpi=100)
plt.close(fig)
